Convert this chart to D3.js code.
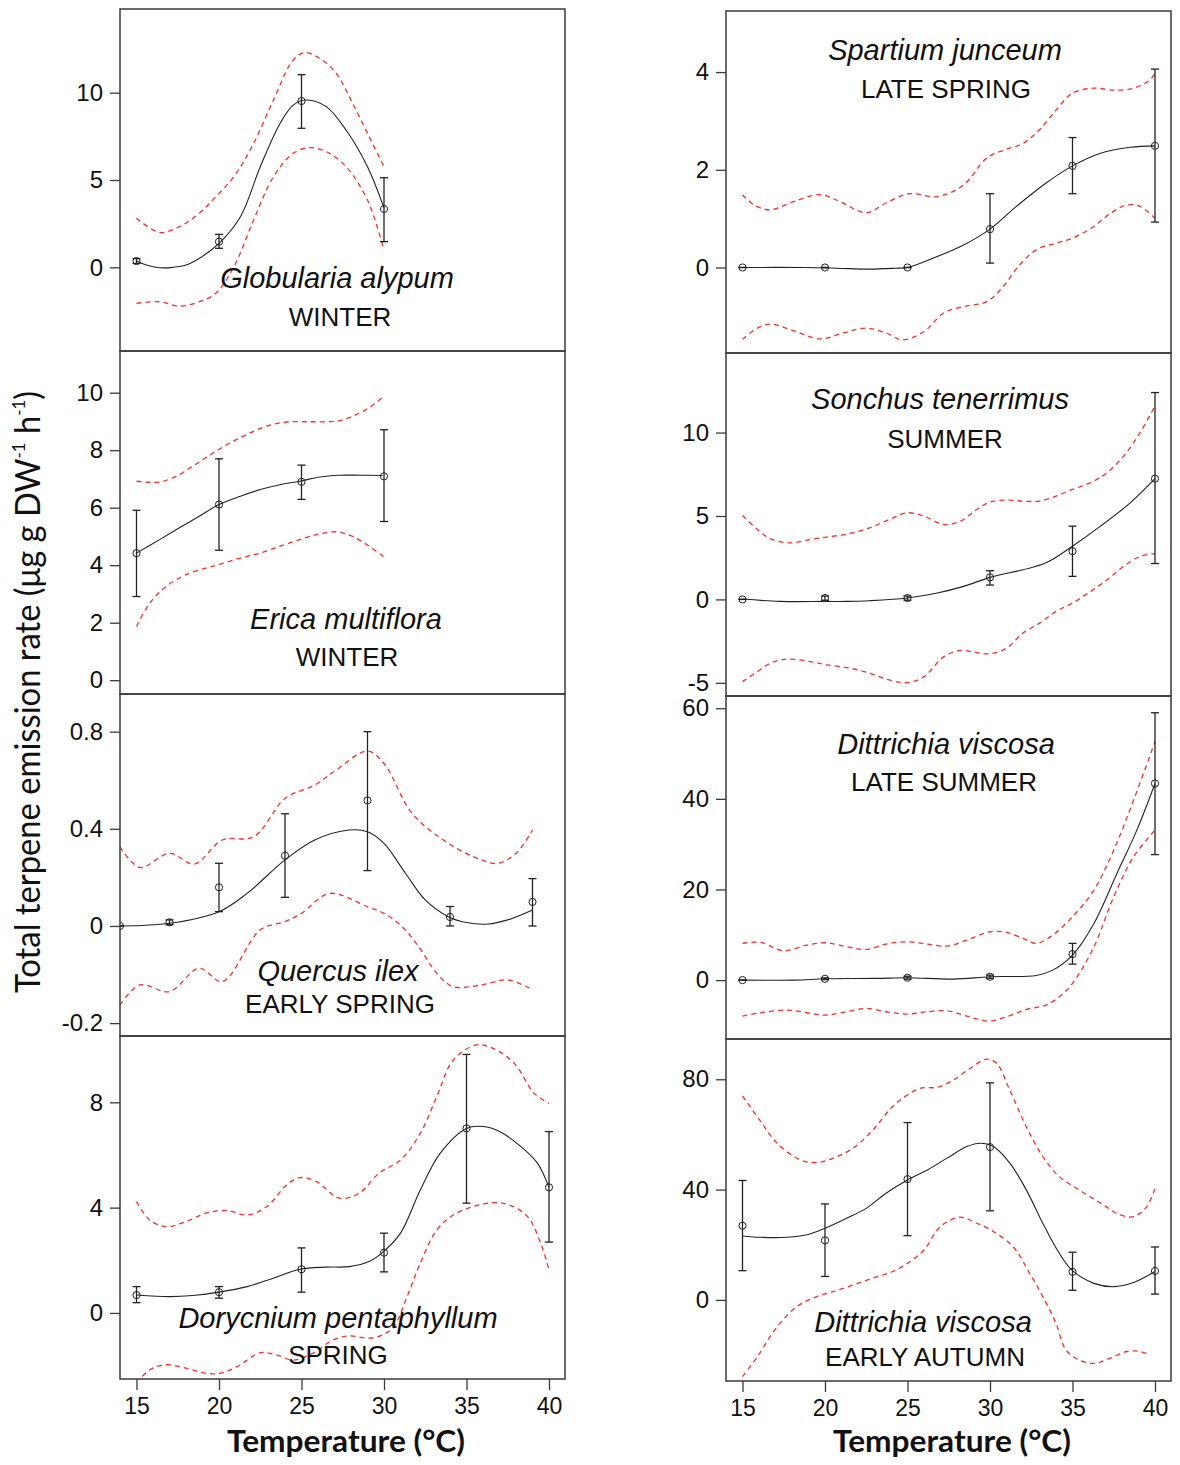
<!DOCTYPE html>
<html>
<head>
<meta charset="utf-8">
<script src="https://cdn.jsdelivr.net/npm/d3@7"></script>
<style>
  body { margin: 0; background: #fff; }
  svg { display: block; }
</style>
</head>
<body>
<svg id="chart" width="1180" height="1465"></svg>
<script>
// x axis (temperature, degrees C)
var xTicks = [15, 20, 25, 30, 35, 40];

// Globularia alypum - winter
var gaT = [15, 20, 25, 30];
var gaMean = [0.36, 1.47, 9.52, 3.34];
var gaLo = [0.22, 1.09, 7.96, 1.47];
var gaHi = [0.5, 1.89, 11.03, 5.13];
var gaFit = [[15, 0.36], [15.6, 0.13], [16.4, -0.02], [17.2, 0], [18, 0.13], [18.8, 0.51], [20, 1.37], [21.3, 2.9], [22.5, 5.76], [23.7, 8.24], [24.5, 9.29], [25.3, 9.58], [26.5, 9.2], [27.7, 7.86], [29, 5.76], [30, 3.4]];
var gaUp = [[15, 2.81], [16.4, 2.0], [17.6, 2.33], [18.8, 3.09], [19.8, 4.04], [20.9, 5.19], [22.1, 7.1], [23.3, 9.58], [24.5, 11.87], [25.2, 12.29], [26.1, 11.97], [27.1, 11.11], [28.1, 9.39], [29.1, 7.48], [30, 5.76]];
var gaLow = [[15, -2.06], [16.4, -1.97], [17.6, -2.22], [18.8, -1.97], [19.8, -1.49], [20.9, 0.03], [22.1, 2.71], [23.3, 5.19], [24.5, 6.53], [25.5, 6.85], [26.5, 6.62], [27.7, 5.76], [29, 3.85], [30, 0.99]];

// Erica multiflora - winter
var emT = [15, 20, 25, 30];
var emMean = [4.42, 6.11, 6.9, 7.09];
var emLo = [2.91, 4.52, 6.29, 5.52];
var emHi = [5.91, 7.7, 7.48, 8.71];
var emFit = [[15, 4.42], [16.4, 4.89], [17.6, 5.3], [18.8, 5.7], [20, 6.11], [21.3, 6.4], [22.5, 6.63], [23.7, 6.8], [24.9, 6.92], [26.1, 7.07], [27.3, 7.13], [28.5, 7.13], [29.9, 7.12]];
var emUp = [[15, 6.92], [15.6, 6.89], [16.4, 6.89], [17.4, 7.09], [18.4, 7.44], [19.5, 7.85], [20.5, 8.2], [21.7, 8.55], [22.9, 8.84], [24.1, 8.98], [25.3, 8.99], [26.5, 8.99], [27.3, 9.03], [28.1, 9.18], [29.1, 9.48], [30, 9.88]];
var emLow = [[15, 1.87], [15.8, 2.68], [16.8, 3.26], [18, 3.67], [19.2, 3.9], [20, 4.02], [21.3, 4.25], [22.5, 4.42], [23.7, 4.66], [24.9, 4.89], [26.1, 5.09], [27.1, 5.16], [28.1, 5.0], [29.1, 4.66], [30, 4.29]];

// Quercus ilex - early spring
var qiT = [14, 17, 20, 24, 29, 34, 39];
var qiMean = [0, 0.015, 0.159, 0.289, 0.517, 0.037, 0.099];
var qiLo = [0, 0.005, 0.059, 0.118, 0.228, 0, 0];
var qiHi = [0, 0.025, 0.258, 0.462, 0.8, 0.08, 0.195];
var qiFit = [[14, 0], [17, 0.011], [20, 0.059], [21.7, 0.134], [24, 0.272], [25.8, 0.354], [27.9, 0.395], [29, 0.388], [30, 0.34], [31.3, 0.217], [32.5, 0.107], [33.9, 0.038], [35, 0.014], [36.3, 0.008], [37.5, 0.025], [39, 0.066]];
var qiUp = [[14, 0.326], [15.2, 0.241], [17, 0.299], [18.5, 0.255], [20.2, 0.354], [22.1, 0.367], [24, 0.525], [25.8, 0.58], [27.1, 0.642], [29, 0.72], [30, 0.669], [31.7, 0.464], [33.9, 0.34], [35.9, 0.272], [36.9, 0.258], [38, 0.299], [39, 0.395]];
var qiLow = [[14, -0.325], [15.2, -0.243], [17, -0.27], [18.8, -0.174], [20.2, -0.229], [22.5, -0.016], [24, 0.018], [25, 0.052], [26.7, 0.134], [29, 0.079], [30, 0.052], [31.1, -0.003], [32.1, -0.085], [33.2, -0.195], [34.2, -0.25], [35.9, -0.243], [37.5, -0.222], [39, -0.263]];

// Dorycnium pentaphyllum - spring
var dpT = [15, 20, 25, 30, 35, 40];
var dpMean = [0.68, 0.79, 1.66, 2.29, 7.01, 4.77];
var dpLo = [0.39, 0.56, 0.79, 1.56, 4.17, 2.69];
var dpHi = [1.0, 1.0, 2.47, 3.03, 9.82, 6.89];
var dpFit = [[15, 0.68], [17, 0.62], [18.4, 0.66], [20, 0.79], [21.7, 1.0], [23.3, 1.32], [24.9, 1.66], [26.5, 1.74], [27.9, 1.76], [29.1, 1.95], [29.9, 2.29], [31, 3.03], [32.2, 4.67], [33.4, 6.06], [35, 7.01], [36, 7.08], [37, 6.89], [38.3, 6.32], [39.3, 5.69], [40, 4.77]];
var dpUp = [[15, 4.23], [15.8, 3.53], [16.8, 3.28], [18, 3.47], [19.2, 3.79], [20.5, 3.89], [21.7, 3.72], [22.9, 4.04], [24.1, 4.86], [24.9, 5.14], [25.9, 4.99], [27.3, 4.36], [28.5, 4.55], [29.7, 5.31], [31, 5.81], [32.2, 6.82], [33.2, 8.22], [34.2, 9.61], [35.6, 10.18], [36.6, 10.05], [37.9, 9.48], [39.1, 8.34], [40, 7.96]];
var dpLow = [[15, -2.67], [15.8, -2.16], [16.8, -1.97], [18, -2.1], [19.2, -2.29], [20.1, -2.29], [21.1, -2.04], [22.5, -1.51], [23.5, -1.6], [24.5, -1.79], [25.7, -1.53], [26.9, -1.03], [27.9, -0.87], [29.1, -0.96], [29.9, -0.84], [30.6, -0.52], [31.4, 0.62], [32.2, 1.89], [33.2, 3.15], [34.2, 3.72], [35.4, 4.04], [36.6, 4.19], [37.6, 4.1], [38.7, 3.66], [39.5, 2.65], [40, 1.63]];

// Spartium junceum - late spring
var sjT = [15, 20, 25, 30, 35, 40];
var sjMean = [0, 0, 0, 0.785, 2.08, 2.49];
var sjLo = [0, 0, 0, 0.09, 1.51, 0.93];
var sjHi = [0, 0, 0, 1.51, 2.66, 4.06];
var sjFit = [[15, 0], [18.7, 0], [20.7, -0.014], [22.7, -0.034], [24.3, -0.014], [25, 0], [26.8, 0.225], [28.4, 0.46], [30, 0.785], [31.6, 1.25], [33.4, 1.73], [35, 2.08], [36.7, 2.34], [38.5, 2.46], [40, 2.49]];
var sjUp = [[15, 1.49], [15.7, 1.28], [16.7, 1.18], [18.1, 1.35], [19.7, 1.49], [20.9, 1.35], [22.5, 1.12], [23.7, 1.32], [25.1, 1.51], [26.8, 1.45], [28.4, 1.69], [29.8, 2.24], [31, 2.42], [32, 2.54], [33, 2.82], [34, 3.22], [35, 3.57], [36.3, 3.67], [37.5, 3.63], [38.7, 3.67], [39.7, 3.84], [40, 3.98]];
var sjLow = [[15, -1.47], [15.9, -1.24], [16.7, -1.16], [17.9, -1.27], [19.7, -1.46], [21.1, -1.34], [22.5, -1.24], [23.7, -1.34], [24.7, -1.48], [26, -1.31], [27.2, -0.93], [28.4, -0.8], [29.8, -0.7], [30.8, -0.39], [31.8, 0.055], [32.8, 0.36], [34, 0.5], [35, 0.6], [36.3, 0.84], [37.3, 1.11], [38.3, 1.28], [39.1, 1.25], [40, 1.01]];

// Sonchus tenerrimus - summer
var stT = [15, 20, 25, 30, 35, 40];
var stMean = [0, 0.08, 0.08, 1.32, 2.89, 7.24];
var stLo = [0, -0.05, -0.05, 0.86, 1.38, 2.15];
var stHi = [0, 0.2, 0.2, 1.72, 4.39, 12.4];
var stFit = [[15, 0.02], [17.3, -0.12], [20, -0.12], [21.3, -0.12], [22.7, -0.08], [25, 0.08], [26.8, 0.38], [28.4, 0.78], [30, 1.32], [32, 1.78], [33.4, 2.19], [35, 3.19], [36.7, 4.39], [38.5, 5.79], [40, 7.24]];
var stUp = [[15, 5.03], [15.9, 4.19], [16.7, 3.63], [17.9, 3.39], [19.1, 3.59], [20.1, 3.73], [21.5, 3.95], [22.7, 4.29], [23.9, 4.79], [25, 5.19], [26, 4.99], [27.2, 4.49], [28.2, 4.69], [29.2, 5.39], [30, 5.83], [31, 5.95], [32, 5.89], [33, 5.89], [34, 6.19], [35, 6.59], [36.1, 7.0], [37.1, 7.6], [38.1, 8.59], [39.1, 10.0], [40, 11.6]];
var stLow = [[15, -4.93], [15.9, -4.33], [16.7, -3.82], [17.7, -3.58], [19.1, -3.73], [20.1, -3.92], [21.5, -4.12], [22.7, -4.42], [23.9, -4.83], [25, -4.99], [26, -4.63], [27.2, -3.43], [28.2, -3.06], [29.2, -3.19], [30, -3.26], [31, -2.92], [32, -2.02], [33, -1.42], [34, -0.72], [35, -0.22], [36.1, 0.48], [37.1, 1.18], [38.1, 1.98], [39.1, 2.58], [40, 2.75]];

// Dittrichia viscosa - late summer
var dlT = [15, 20, 25, 30, 35, 40];
var dlMean = [0, 0.29, 0.52, 0.74, 5.74, 43.4];
var dlLo = [0, 0.1, 0.2, 0.4, 3.53, 27.7];
var dlHi = [0, 0.5, 0.85, 1.1, 8.1, 59.0];
var dlFit = [[15, 0], [18.1, 0], [20.1, 0.29], [23.1, 0.37], [25, 0.52], [27.8, 0.22], [30, 0.74], [32.8, 1.03], [33.8, 2.2], [35, 5.52], [36.3, 12.5], [37.7, 23.6], [38.9, 33.1], [40, 43.4]];
var dlUp = [[15, 8.1], [16.1, 8.32], [17.5, 6.47], [18.9, 7.73], [20.1, 8.24], [21.3, 7.36], [22.5, 6.77], [23.7, 7.95], [25, 8.46], [26.2, 7.95], [27.4, 7.51], [28.6, 8.83], [30, 10.67], [31, 10.52], [32, 9.2], [32.8, 8.1], [33.8, 9.93], [35, 13.98], [36.3, 19.87], [37.5, 28.7], [38.7, 39.7], [40, 52.6]];
var dlLow = [[15, -7.95], [16.1, -7.21], [17.7, -6.62], [18.9, -7.21], [20, -7.73], [21.3, -6.99], [22.5, -6.25], [23.7, -6.99], [25, -7.5], [26.2, -6.99], [27.4, -6.77], [28.6, -7.95], [29.9, -9.05], [31, -8.1], [32.2, -6.47], [33.4, -5.52], [34.2, -3.69], [35, -0.74], [36.3, 7.36], [37.5, 18.4], [38.7, 27.2], [40, 33.1]];

// Dittrichia viscosa - early autumn
var daT = [15, 20, 25, 30, 35, 40];
var daMean = [26.9, 21.6, 43.8, 55.4, 10.2, 10.5];
var daLo = [10.6, 8.5, 23.3, 32.3, 3.5, 2.1];
var daHi = [43.3, 34.8, 64.3, 78.7, 17.3, 19.2];
var daFit = [[15, 23.2], [16.1, 22.7], [17.7, 22.7], [18.9, 23.6], [20, 26.0], [21.3, 29.6], [22.5, 33.2], [23.7, 38.7], [25, 43.5], [26.2, 47.1], [27.4, 51.4], [28.6, 55.6], [29.4, 56.8], [30.2, 55.6], [31.2, 49.6], [32.2, 39.9], [33.2, 27.8], [34.2, 16.9], [35, 10.6], [36.3, 6.0], [37.5, 4.8], [38.7, 6.3], [40, 10.3]];
var daUp = [[15, 74.0], [16.1, 64.7], [17.1, 56.8], [18.5, 50.8], [19.5, 49.8], [20.5, 51.4], [21.7, 55.0], [22.9, 61.6], [24.1, 70.1], [25, 74.3], [25.8, 76.8], [26.8, 77.1], [27.8, 79.8], [28.8, 84.0], [29.8, 87.3], [30.4, 85.8], [31.2, 76.1], [32.2, 62.8], [33.2, 52.0], [34.2, 44.7], [35.4, 39.9], [36.7, 35.1], [37.9, 30.8], [38.7, 30.2], [39.5, 33.8], [40, 40.5]];
var daLow = [[15, -27.8], [15.9, -20.6], [17.1, -9.7], [18.3, -2.4], [19.5, 1.2], [20.5, 3.0], [21.7, 5.4], [22.9, 7.9], [24.1, 10.3], [25, 13.3], [26, 18.1], [27, 26.6], [28.2, 30.0], [29.2, 27.8], [30.2, 24.8], [31.4, 19.3], [32.4, 9.7], [33.2, 1.2], [34, -8.5], [34.6, -18.1], [35.4, -21.8], [36.3, -23.0], [37.3, -21.1], [38.3, -18.7], [39.1, -18.7], [39.7, -19.9]];

// y ticks per panel (labels as printed in the figure)
var gaTicks = [0, 5, 10];
var emTicks = [0, 2, 4, 6, 8, 10];
var qiTicks = [-0.4, 0, 0.4, 0.8];
var qiTickLabels = ["-0.2", "0", "0.4", "0.8"];
var dpTicks = [0, 4, 8];
var sjTicks = [0, 2, 4];
var stTicks = [-5, 0, 5, 10];
var dlTicks = [0, 20, 40, 60];
var daTicks = [0, 40, 80];

// layout
var colLeft = [120, 726], panelW = 445;
var rowEdges = [[9, 351, 694, 1036, 1379], [11, 353, 696, 1039, 1381]];

var panels = [
  { col: 0, row: 0, t: gaT, mean: gaMean, lo: gaLo, hi: gaHi, fit: gaFit, up: gaUp, low: gaLow, dom: [-4.79, 14.79], ticks: gaTicks, name: "Globularia alypum", season: "WINTER", nx: 217, ny: 279, sx: 220, sy: 317 },
  { col: 0, row: 1, t: emT, mean: emMean, lo: emLo, hi: emHi, fit: emFit, up: emUp, low: emLow, dom: [-0.48, 11.45], ticks: emTicks, name: "Erica multiflora", season: "WINTER", nx: 226, ny: 278, sx: 227, sy: 315 },
  { col: 0, row: 2, t: qiT, mean: qiMean, lo: qiLo, hi: qiHi, fit: qiFit, up: qiUp, low: qiLow, dom: [-0.453, 0.955], ticks: qiTicks, labels: qiTickLabels, name: "Quercus ilex", season: "EARLY SPRING", nx: 218, ny: 287, sx: 220, sy: 319 },
  { col: 0, row: 3, t: dpT, mean: dpMean, lo: dpLo, hi: dpHi, fit: dpFit, up: dpUp, low: dpLow, dom: [-2.51, 10.52], ticks: dpTicks, name: "Dorycnium pentaphyllum", season: "SPRING", nx: 218, ny: 292, sx: 218, sy: 328 },
  { col: 1, row: 0, t: sjT, mean: sjMean, lo: sjLo, hi: sjHi, fit: sjFit, up: sjUp, low: sjLow, dom: [-1.75, 5.25], ticks: sjTicks, name: "Spartium junceum", season: "LATE SPRING", nx: 219, ny: 49, sx: 220, sy: 87 },
  { col: 1, row: 1, t: stT, mean: stMean, lo: stLo, hi: stHi, fit: stFit, up: stUp, low: stLow, dom: [-5.79, 14.77], ticks: stTicks, name: "Sonchus tenerrimus", season: "SUMMER", nx: 214, ny: 56, sx: 219, sy: 95 },
  { col: 1, row: 2, t: dlT, mean: dlMean, lo: dlLo, hi: dlHi, fit: dlFit, up: dlUp, low: dlLow, dom: [-13.0, 62.7], ticks: dlTicks, name: "Dittrichia viscosa", season: "LATE SUMMER", nx: 220, ny: 58, sx: 218, sy: 95 },
  { col: 1, row: 3, t: daT, mean: daMean, lo: daLo, hi: daHi, fit: daFit, up: daUp, low: daLow, dom: [-29.4, 94.6], ticks: daTicks, name: "Dittrichia viscosa", season: "EARLY AUTUMN", nx: 197, ny: 293, sx: 199, sy: 327 }
];

var svg = d3.select("#chart");
var ink = "#222", frame = "#3a3a3a";
var tickFont = "'Liberation Sans', Arial, sans-serif";

panels.forEach(function (p, i) {
  var x0 = colLeft[p.col];
  var y0 = rowEdges[p.col][p.row], y1 = rowEdges[p.col][p.row + 1];
  var x = d3.scaleLinear().domain([14, 40.97]).range([x0, x0 + panelW]);
  var y = d3.scaleLinear().domain(p.dom).range([y1, y0]);

  var g = svg.append("g");
  g.append("clipPath").attr("id", "clip" + i)
    .append("rect").attr("x", x0).attr("y", y0).attr("width", panelW).attr("height", y1 - y0);

  // y axis
  var fmt = p.labels ? function (d, k) { return p.labels[k]; } : function (d) { return String(d); };
  var ya = g.append("g").attr("transform", "translate(" + x0 + ",0)")
    .call(d3.axisLeft(y).tickValues(p.ticks).tickSize(10).tickPadding(7).tickFormat(fmt));
  ya.select(".domain").remove();
  ya.selectAll("line").attr("stroke", frame).attr("stroke-width", 1.3);
  ya.selectAll("text").attr("font-family", tickFont).attr("font-size", 24).attr("fill", "#111");

  // x axis on bottom row only
  if (p.row === 3) {
    var xa = g.append("g").attr("transform", "translate(0," + y1 + ")")
      .call(d3.axisBottom(x).tickValues(xTicks).tickSize(11).tickPadding(8));
    xa.select(".domain").remove();
    xa.selectAll("line").attr("stroke", frame).attr("stroke-width", 1.3);
    xa.selectAll("text").attr("font-family", tickFont).attr("font-size", 23).attr("fill", "#111");
  }

  var line = d3.line().x(function (d) { return x(d[0]); }).y(function (d) { return y(d[1]); })
    .curve(d3.curveCatmullRom.alpha(0.5));
  var plot = g.append("g").attr("clip-path", "url(#clip" + i + ")");

  [p.up, p.low].forEach(function (s) {
    plot.append("path").attr("d", line(s)).attr("fill", "none")
      .attr("stroke", "#ff2a2a").attr("stroke-width", 1.3).attr("stroke-dasharray", "5,4");
  });
  plot.append("path").attr("d", line(p.fit)).attr("fill", "none")
    .attr("stroke", ink).attr("stroke-width", 1.1);

  // error bars and points
  p.t.forEach(function (t, k) {
    var cx = x(t);
    plot.append("line").attr("x1", cx).attr("x2", cx).attr("y1", y(p.lo[k])).attr("y2", y(p.hi[k]))
      .attr("stroke", ink).attr("stroke-width", 1.3);
    [p.lo[k], p.hi[k]].forEach(function (v) {
      plot.append("line").attr("x1", cx - 4).attr("x2", cx + 4).attr("y1", y(v)).attr("y2", y(v))
        .attr("stroke", ink).attr("stroke-width", 1.3);
    });
    plot.append("circle").attr("cx", cx).attr("cy", y(p.mean[k])).attr("r", 3.6)
      .attr("fill", "none").attr("stroke", ink).attr("stroke-width", 1);
  });

  // frame
  g.append("rect").attr("x", x0).attr("y", y0).attr("width", panelW).attr("height", y1 - y0)
    .attr("fill", "none").attr("stroke", frame).attr("stroke-width", 1.5);

  // labels
  g.append("text").attr("x", x0 + p.nx).attr("y", y0 + p.ny).attr("text-anchor", "middle")
    .attr("font-family", tickFont).attr("font-style", "italic").attr("font-size", 29)
    .attr("fill", "#111").text(p.name);
  g.append("text").attr("x", x0 + p.sx).attr("y", y0 + p.sy).attr("text-anchor", "middle")
    .attr("font-family", tickFont).attr("font-size", 26)
    .attr("fill", "#111").text(p.season);
});

// axis titles
[346, 952].forEach(function (cx) {
  svg.append("text").attr("x", cx).attr("y", 1452).attr("text-anchor", "middle")
    .attr("font-family", "Lato, sans-serif").attr("font-weight", 700).attr("font-size", 30)
    .attr("textLength", 238).attr("lengthAdjust", "spacingAndGlyphs")
    .attr("fill", "#111").text("Temperature (°C)");
});

var yt = svg.append("text").attr("transform", "translate(40,692) rotate(-90)")
  .attr("text-anchor", "middle").attr("font-family", "Lato, sans-serif").attr("font-size", 35)
  .attr("textLength", 602).attr("lengthAdjust", "spacingAndGlyphs").attr("fill", "#111");
yt.append("tspan").text("Total terpene emission rate (μg g DW");
yt.append("tspan").attr("font-size", 18).attr("dy", -15).text("-1");
yt.append("tspan").attr("dy", 15).text(" h");
yt.append("tspan").attr("font-size", 18).attr("dy", -15).text("-1");
yt.append("tspan").attr("dy", 15).text(")");
</script>
</body>
</html>
